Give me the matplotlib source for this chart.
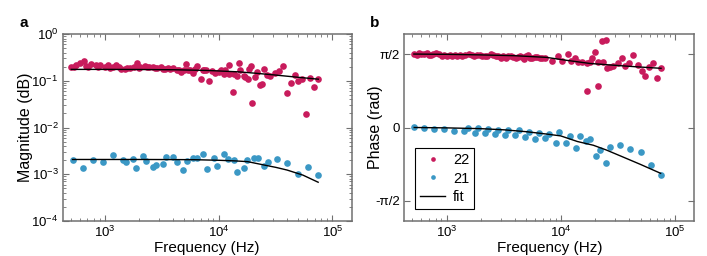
import numpy as np
import matplotlib.pyplot as plt
from matplotlib.ticker import LogLocator, NullFormatter, FixedLocator

plt.rcParams['font.family'] = ['Liberation Sans', 'DejaVu Sans']
plt.rcParams['mathtext.fontset'] = 'custom'
plt.rcParams['mathtext.rm'] = 'Liberation Sans'
plt.rcParams['mathtext.it'] = 'Liberation Sans:italic'
plt.rcParams['mathtext.bf'] = 'Liberation Sans:bold'
plt.rcParams['axes.unicode_minus'] = False

RED = '#C81B5C'
BLUE = '#3B98C5'

# ---- panel a: magnitude ----
f22_mag = [505, 559, 598, 648, 708, 757, 839, 910, 994, 1063, 1177, 1260, 1394, 1492,
           1651, 1791, 1916, 2050, 2239, 2445, 2653, 2877, 3143, 3365, 3598, 3930, 4264,
           4624, 4946, 5152, 5586, 5979, 6485, 6937, 7230, 7734, 8225, 8674,
           530, 680, 870, 1110, 1330, 1570, 1980, 2340, 2760, 3250, 3760, 4440, 5360, 6200, 7480,
           9354, 10000, 10560, 11070, 11450, 12260, 12420, 13300, 13580, 14530, 15230, 15550,
           16650, 17220, 18170, 18420, 19440, 19830, 21070, 21810, 23020, 24150, 25140, 26710,
           28580, 31240, 33880, 36730, 39600, 43270, 46600, 50150, 54400, 59000, 64000, 69480,
           75300]
mag22 = [0.195, 0.212, 0.245, 0.270, 0.195, 0.230, 0.222, 0.215, 0.195, 0.212, 0.201, 0.215,
         0.180, 0.177, 0.189, 0.201, 0.241, 0.195, 0.208, 0.195, 0.201, 0.189, 0.195, 0.177,
         0.189, 0.189, 0.166, 0.153, 0.171, 0.230, 0.166, 0.145, 0.208, 0.110, 0.166, 0.166,
         0.100, 0.160,
         0.200, 0.210, 0.198, 0.190, 0.196, 0.186, 0.184, 0.198, 0.192, 0.182, 0.175, 0.170,
         0.174, 0.176, 0.168,
         0.145, 0.153, 0.166, 0.141, 0.166, 0.222, 0.141, 0.0573, 0.141, 0.124, 0.237, 0.166,
         0.124, 0.119, 0.110, 0.180, 0.208, 0.0334, 0.119, 0.153, 0.0794, 0.0861, 0.180, 0.130,
         0.124, 0.145, 0.160, 0.208, 0.0555, 0.089, 0.130, 0.101, 0.110, 0.0192, 0.114, 0.072,
         0.108]

f21 = [519, 635, 778, 953, 1167, 1429, 1531, 1758, 1879, 2148, 2301, 2630, 2818, 3221,
       3451, 3945, 4276, 4898, 5248, 5998, 6427, 7345, 7852, 9057, 9616, 11092, 11967,
       13677, 14622, 16749, 17906, 20512, 21979, 25119, 26915, 32885, 40272, 50119,
       61235, 74989]
mag21 = [1.99e-3, 1.38e-3, 2.05e-3, 1.80e-3, 2.58e-3, 2.05e-3, 1.83e-3, 2.08e-3, 1.34e-3,
         2.45e-3, 1.92e-3, 1.41e-3, 1.60e-3, 1.66e-3, 2.37e-3, 2.33e-3, 1.80e-3, 1.25e-3,
         1.89e-3, 2.22e-3, 2.25e-3, 2.74e-3, 1.28e-3, 2.22e-3, 1.48e-3, 2.70e-3, 2.08e-3,
         2.01e-3, 1.14e-3, 1.38e-3, 2.01e-3, 2.25e-3, 2.25e-3, 1.52e-3, 1.83e-3, 2.12e-3,
         1.71e-3, 1.00e-3, 1.45e-3, 0.97e-3]

fit_f_mag22 = [505, 1000, 2000, 4000, 8000, 15000, 21000, 30000, 41500, 55000, 75300]
fit_mag22 = [0.175, 0.175, 0.174, 0.172, 0.166, 0.155, 0.145, 0.134, 0.124, 0.116, 0.108]
fit_f_mag21 = [519, 1000, 2000, 4000, 6000, 10000, 14000, 18000, 25000, 32000, 40000, 55000, 75000]
fit_mag21 = [2.07e-3, 2.07e-3, 2.07e-3, 2.06e-3, 2.05e-3, 1.99e-3, 1.93e-3, 1.86e-3,
             1.58e-3, 1.40e-3, 1.23e-3, 0.96e-3, 0.675e-3]

# ---- panel b: phase ----
f22_ph = [516, 571, 632, 676, 723, 800, 856, 915, 1013, 1120, 1239, 1371, 1570, 1735, 1858,
          2052, 2270, 2462, 2689, 2974, 3289, 3637, 4023, 4395, 4763, 5164, 5636, 6235, 6897,
          545, 600, 700, 760, 950, 1060, 1180, 1300, 1460, 1650, 1950, 2160, 2570, 2820, 3130,
          3460, 3830, 4200, 4580, 4950, 5400, 5900, 6560,
          7278, 8318, 9520, 10190, 11510, 12310, 13340, 14270, 15460, 16870, 17100, 18070,
          18680, 19980, 21090, 21380, 22870, 24780, 23660, 25310, 27060, 28940, 31570, 34220,
          36620, 39680, 43330, 47300, 51250, 54830, 59430, 63980, 69820, 75690]
ph22 = [1.571, 1.592, 1.578, 1.592, 1.549, 1.592, 1.578, 1.535, 1.535, 1.535, 1.535, 1.535,
        1.578, 1.535, 1.549, 1.535, 1.521, 1.578, 1.521, 1.492, 1.492, 1.535, 1.492, 1.521,
        1.463, 1.549, 1.492, 1.506, 1.492,
        1.560, 1.575, 1.560, 1.565, 1.555, 1.560, 1.550, 1.545, 1.560, 1.545, 1.550, 1.540,
        1.545, 1.530, 1.525, 1.520, 1.505, 1.510, 1.500, 1.520, 1.495, 1.505, 1.485,
        1.478, 1.421, 1.536, 1.428, 1.564, 1.428, 1.478, 1.393, 1.407, 1.378, 0.786, 1.393,
        1.478, 1.621, 0.893, 1.393, 1.857, 1.864, 1.407, 1.264, 1.286, 1.307, 1.378, 1.493,
        1.307, 1.371, 1.550, 1.336, 1.214, 1.100, 1.293, 1.386, 1.064, 1.264]
ph21 = [0.021, -0.008, -0.022, -0.022, -0.072, -0.079, -0.015, -0.122, -0.008, -0.108,
        -0.036, -0.136, -0.058, -0.151, -0.058, -0.165, -0.058, -0.193, -0.093, -0.251,
        -0.108, -0.215, -0.136, -0.336, -0.086, -0.322, -0.179, -0.429, -0.179, -0.286,
        -0.251, -0.608, -0.479, -0.751, -0.408, -0.365, -0.450, -0.522, -0.793, -1.008]

fit_f_ph22 = [516, 1000, 2000, 4000, 7500, 11000, 18000, 30000, 45000, 75690]
fit_ph22 = [1.571, 1.565, 1.553, 1.535, 1.500, 1.440, 1.370, 1.330, 1.300, 1.266]
fit_f_ph21 = [519, 1000, 2000, 3200, 5000, 7500, 10000, 14000, 19300, 25000, 35000, 50000, 74989]
fit_ph21 = [0.0, -0.008, -0.025, -0.05, -0.09, -0.14, -0.18, -0.30, -0.38, -0.48, -0.63, -0.79, -0.98]

fig = plt.figure(figsize=(7.07, 2.56), dpi=100)
axa = fig.add_axes([62.7 / 707, 35 / 256, 289 / 707, 187 / 256])
axb = fig.add_axes([404.3 / 707, 35 / 256, 290 / 707, 187 / 256])

ms = 4.8
axa.plot(f22_mag, mag22, 'o', color=RED, ms=ms, mew=0)
axa.plot(f21, mag21, 'o', color=BLUE, ms=ms, mew=0)
axa.plot(fit_f_mag22, fit_mag22, '-', color='black', lw=1)
axa.plot(fit_f_mag21, fit_mag21, '-', color='black', lw=1)
axa.set_yscale('log')
axa.set_ylim(1e-4, 1)
axa.set_ylabel('Magnitude (dB)', fontsize=11.5)
axa.yaxis.set_label_coords(-0.103, 0.5)

axb.plot(f22_ph, ph22, 'o', color=RED, ms=ms, mew=0, label='22')
axb.plot(f21, ph21, 'o', color=BLUE, ms=ms, mew=0, label='21')
axb.plot(fit_f_ph22, fit_ph22, '-', color='black', lw=1, label='fit')
axb.plot(fit_f_ph21, fit_ph21, '-', color='black', lw=1)
axb.set_ylim(-2, 2)
axb.yaxis.set_major_locator(FixedLocator([-np.pi / 2, 0, np.pi / 2]))
axb.set_yticklabels(['-π/2', '0', 'π/2'])
axb.set_ylabel('Phase (rad)', fontsize=11.5)
axb.yaxis.set_label_coords(-0.073, 0.5)

leg = axb.legend(loc='lower left', bbox_to_anchor=(0.037, 0.064), borderaxespad=0,
                 fontsize=10.5, fancybox=False, edgecolor='black', framealpha=1,
                 markerscale=0.7, handlelength=1.7, handletextpad=0.55,
                 labelspacing=0.3, borderpad=0.35)
leg.get_frame().set_linewidth(0.8)

for ax in (axa, axb):
    ax.set_xscale('log')
    ax.set_xlim(425, 1.48e5)
    ax.xaxis.set_major_locator(LogLocator(base=10, numticks=10))
    ax.xaxis.set_minor_locator(LogLocator(base=10, subs=np.arange(2, 10), numticks=10))
    ax.xaxis.set_minor_formatter(NullFormatter())
    ax.set_xlabel('Frequency (Hz)', fontsize=11, labelpad=0.5)
    ax.tick_params(which='both', direction='in', top=True, right=True,
                   color='#707070', labelsize=9.5, pad=3)
    ax.tick_params(which='major', length=4, width=0.8)
    ax.tick_params(which='minor', length=2, width=0.6)
    for s in ax.spines.values():
        s.set_color('#707070')
        s.set_linewidth(1.1)

axa.yaxis.set_minor_locator(LogLocator(base=10, subs=np.arange(2, 10), numticks=10))
axa.yaxis.set_minor_formatter(NullFormatter())

fig.text(20 / 707, 1 - 27 / 256, 'a', fontsize=11, fontweight='bold', va='baseline')
fig.text(370 / 707, 1 - 27 / 256, 'b', fontsize=11, fontweight='bold', va='baseline')

fig.savefig('out.png', dpi=100)
